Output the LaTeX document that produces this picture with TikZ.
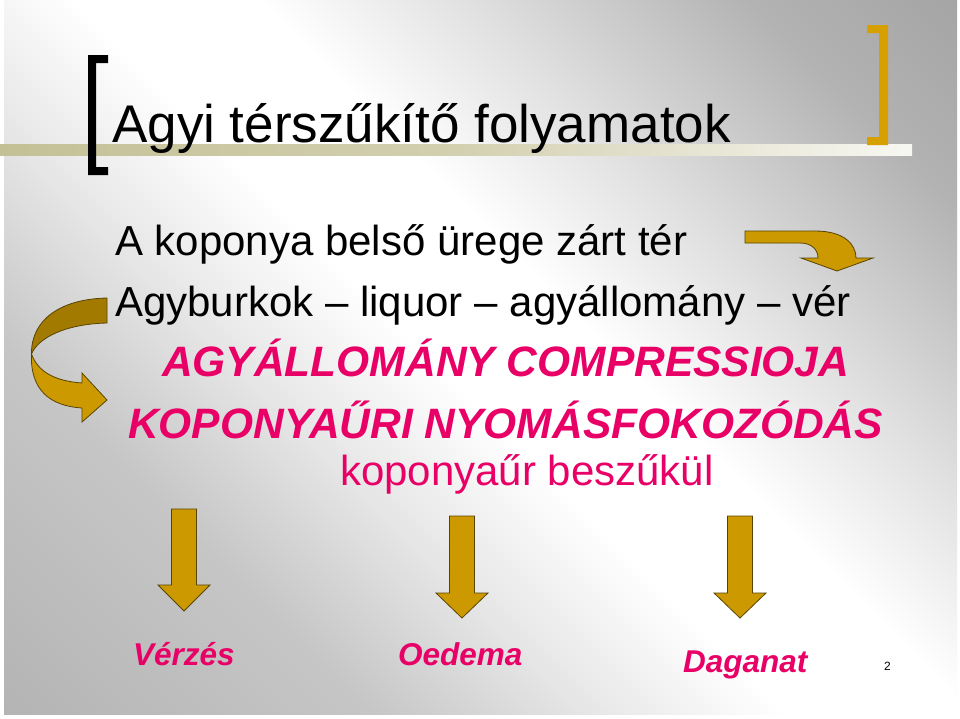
\documentclass[tikz,border=0pt]{standalone}
\usepackage{fontspec}
\setmainfont{Liberation Sans}

\definecolor{gold}{RGB}{204,153,0}
\definecolor{golddark}{RGB}{163,122,0}
\definecolor{goldline}{RGB}{88,68,0}
\definecolor{bracketgold}{RGB}{214,160,0}
\definecolor{hotpink}{RGB}{232,0,102}
\definecolor{khaki}{RGB}{196,192,150}
\definecolor{bgA}{RGB}{180,180,180}
\definecolor{bgB}{RGB}{198,198,198}
\definecolor{bgC}{RGB}{230,230,230}
\definecolor{bgD}{RGB}{226,226,226}
\definecolor{bgE}{RGB}{178,178,178}
\definecolor{bgF}{RGB}{165,165,165}

\pgfdeclarehorizontalshading{slidebg}{100bp}{color(0bp)=(bgA); color(14.6bp)=(bgA);
  color(30.2bp)=(bgB); color(39.4bp)=(bgC); color(47.9bp)=(white); color(55.7bp)=(white);
  color(64.2bp)=(bgD); color(76.9bp)=(bgE); color(85.4bp)=(bgF); color(100bp)=(bgF)}
\pgfdeclarehorizontalshading{titlebar}{100bp}{color(0bp)=(khaki); color(25bp)=(khaki);
  color(50bp)=(khaki!75!white); color(80bp)=(white); color(100bp)=(white)}

\begin{document}
\begin{tikzpicture}[x=1pt,y=-1pt,
  blockarrow/.style={fill=gold, draw=goldline, line width=0.8pt, line join=miter},
  pinktext/.style={text=hotpink, inner sep=0pt, anchor=base west}]

\useasboundingbox (0,0) rectangle (960,718);
\fill [white] (0,0) rectangle (960,718);
\shade [shading=slidebg, shading angle=45] (4,0) rectangle (957,714);

\shade [shading=titlebar] (0,144) rectangle (912,155);

\fill [black] (88,55) -- (108,55) -- (108,63) -- (96,63) -- (96,167) -- (108,167)
  -- (108,175) -- (88,175) -- cycle;
\fill [bracketgold] (888,25) -- (867,25) -- (867,33) -- (879,33) -- (879,137) -- (867,137)
  -- (867,145) -- (888,145) -- cycle;

\node [inner sep=0pt, anchor=base west] (title) at (112,142)
  {\fontsize{53}{53}\selectfont Agyi térszűkítő folyamatok};

\node [inner sep=0pt, anchor=base west] (skull) at (115,255)
  {\fontsize{42}{42}\selectfont A koponya belső ürege zárt tér};
\node [inner sep=0pt, anchor=base west] (layers) at (115,316)
  {\fontsize{42}{42}\selectfont Agyburkok -- liquor -- agyállomány -- vér};

\node [pinktext] (compress) at (162,376)
  {\fontsize{42.5}{42.5}\selectfont\bfseries\itshape AGYÁLLOMÁNY COMPRESSIOJA};
\node [pinktext] (pressure) at (128,438)
  {\fontsize{42.5}{42.5}\selectfont\bfseries\itshape KOPONYAŰRI NYOMÁSFOKOZÓDÁS};
\node [pinktext] (narrow) at (340,485)
  {\fontsize{42}{42}\selectfont koponyaűr beszűkül};

\draw [blockarrow] (745,231) -- (815,231) .. controls (845,231) and (856,245) .. (856,258)
  -- (873,258) -- (837,271) -- (801,258) -- (818,258)
  .. controls (818,250) and (812,243) .. (800,243) -- (745,243) -- cycle;

\draw [blockarrow, fill=golddark] (107,298) .. controls (60,299) and (31,320) .. (31.5,354)
  .. controls (38,338) and (65,324) .. (107,323) -- cycle;
\draw [blockarrow] (31.5,354) .. controls (30,390) and (50,406) .. (82,408)
  -- (82,422) -- (107,400) -- (82,373) -- (82,383)
  .. controls (55,381) and (38,372) .. (31.5,354) -- cycle;

\foreach \x/\ya/\yb/\yc in {184/509/585/611, 462/516/593/618, 740/516/593/618}
   \draw [blockarrow] (\x-12.5,\ya) -- (\x+12.5,\ya) -- (\x+12.5,\yb) -- (\x+26,\yb)
     -- (\x,\yc) -- (\x-26,\yb) -- (\x-12.5,\yb) -- cycle;

\node [pinktext] (bleed) at (133,665) {\fontsize{31.5}{31.5}\selectfont\bfseries\itshape Vérzés};
\node [pinktext] (oedema) at (398,665) {\fontsize{31.5}{31.5}\selectfont\bfseries\itshape Oedema};
\node [pinktext] (tumour) at (683,672) {\fontsize{31.5}{31.5}\selectfont\bfseries\itshape Daganat};

\node [inner sep=0pt, anchor=base west] (pagenum) at (884,670) {\fontsize{12}{12}\selectfont 2};

\end{tikzpicture}
\end{document}
